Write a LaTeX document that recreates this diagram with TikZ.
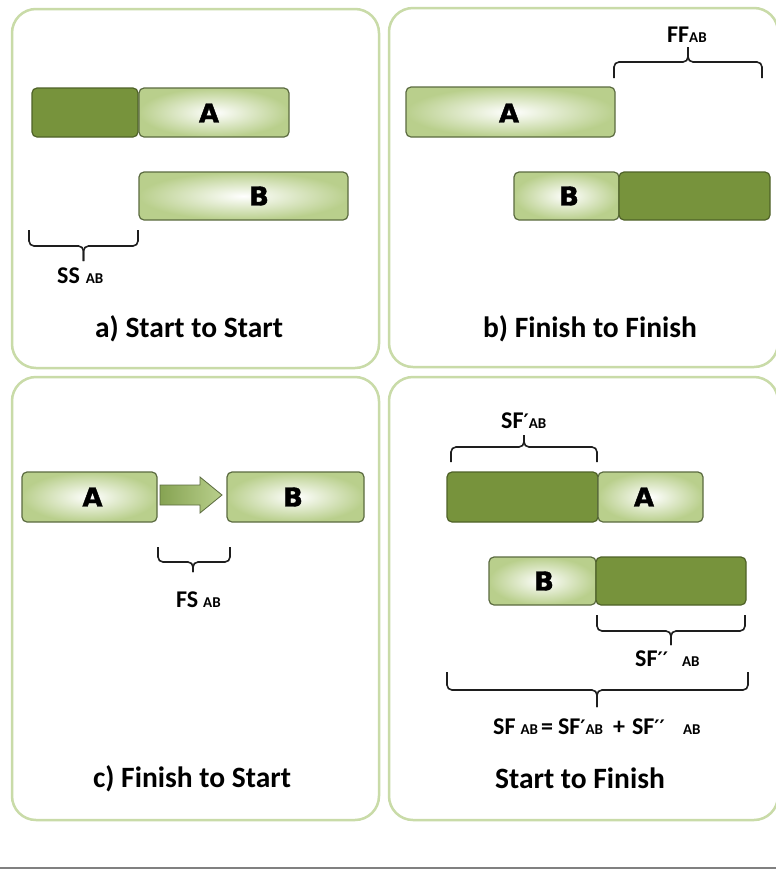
\documentclass[tikz,border=0pt]{standalone}
\usepackage{fontspec}
\setmainfont{Carlito}
\newfontfamily\barfont[BoldFeatures={FakeBold=1.6}]{DejaVu Sans}
\newfontfamily\primefont{DejaVu Sans}
\usetikzlibrary{calc}
\definecolor{panelc}{HTML}{C9DBA8}
\definecolor{darkg}{HTML}{77933C}
\definecolor{darkb}{HTML}{4F6228}
\definecolor{lightg}{HTML}{B9CF8C}
\definecolor{lightb}{HTML}{5B6B40}
\definecolor{arrl}{HTML}{86A352}
\definecolor{brk}{HTML}{1E1E1E}
\tikzset{
  panel/.style={draw=panelc, line width=2.5pt, rounded corners=24pt, fill=white},
  darkbar/.style={draw=darkb, line width=1.2pt, fill=darkg, rounded corners=5pt, inner sep=0pt, outer sep=0pt},
  lightbar/.style={draw=lightb, line width=1.2pt, inner color=white, outer color=lightg, rounded corners=5pt, inner sep=0pt, outer sep=0pt},
  barlabel/.style={font=\barfont\bfseries\fontsize{26}{26}\selectfont, inner sep=0pt},
  lbl/.style={font=\bfseries\fontsize{24}{24}\selectfont, inner sep=0pt, anchor=base west},
  ttl/.style={font=\bfseries\fontsize{29.5}{29.5}\selectfont, inner sep=0pt, anchor=base},
  brcline/.style={draw=brk, line width=1.6pt, rounded corners=5pt},
  blockarrow/.style={draw=lightb, line width=0.8pt, left color=arrl, middle color=white, right color=lightg},
}
\newcommand\sm[1]{{\fontsize{15}{15}\selectfont #1}}
\newcommand\pr{{\primefont\bfseries\fontsize{20}{20}\selectfont ′}}
% x1, x2, yend, yline, ytip, xmid
\newcommand\mybrace[6]{%
  \draw[brcline] (#1,#3) |- (#6,#4) -- (#6,#5);
  \draw[brcline] (#2,#3) |- (#6,#4) -- (#6,#5);
}
\begin{document}
\begin{tikzpicture}[x=1pt,y=-1pt]
\useasboundingbox (0,0) rectangle (776,871);
\fill[white] (0,0) rectangle (776,871);
\clip (0,0) rectangle (776,871);

% panels
\draw[panel] (12,9) rectangle (379,368);
\draw[panel] (389,8) rectangle (778,367);
\draw[panel] (12,377) rectangle (379,820);
\draw[panel] (389,377) rectangle (778,820);
\draw[gray, line width=1.5pt] (0,868) -- (776,868);

% ---- a) Start to Start
\node[darkbar, minimum width=106pt, minimum height=49pt] (aD) at (85,112.5) {};
\node[lightbar, minimum width=150pt, minimum height=49pt] (aA) at (214,112.5) {};
\node[barlabel] (aAt) at (209,113) {A};
\node[lightbar, minimum width=209pt, minimum height=48pt] (aB) at (243.5,196) {};
\node[barlabel] (aBt) at (259,196) {B};
\mybrace{29}{138}{230}{246}{261}{83.5}
\node[lbl] (ssl) at (57,283) {SS\hspace{6pt}\sm{AB}};
\node[ttl] (ta) at (189,337) {a) Start to Start};

% ---- b) Finish to Finish
\node[lightbar, minimum width=209pt, minimum height=50pt] (bA) at (510.5,112) {};
\node[barlabel] (bAt) at (509,113) {A};
\node[lightbar, minimum width=105pt, minimum height=48pt] (bB) at (566.5,196) {};
\node[barlabel] (bBt) at (569,196) {B};
\node[darkbar, minimum width=151pt, minimum height=48pt] (bD) at (694.5,196) {};
\mybrace{614}{762}{78}{62}{47}{688}
\node[lbl] (ffl) at (667,42) {FF\sm{AB}};
\node[ttl] (tb) at (590,337) {b) Finish to Finish};

% ---- c) Finish to Start
\node[lightbar, minimum width=135pt, minimum height=50pt] (cA) at (89.5,497) {};
\node[barlabel] (cAt) at (92.5,497) {A};
\node[lightbar, minimum width=137pt, minimum height=50pt] (cB) at (295.5,497) {};
\node[barlabel] (cBt) at (293,497) {B};
\draw[blockarrow] ($(cA.east)+(3,-12)$) -- ($(cA.east)+(43,-12)$) -- ($(cA.east)+(43,-20)$)
  -- ($(cB.west)+(-5,-2)$) -- ($(cA.east)+(43,16)$) -- ($(cA.east)+(43,8)$)
  -- ($(cA.east)+(3,8)$) -- cycle;
\mybrace{158}{230}{547}{562}{572}{193}
\node[lbl] (fsl) at (176,607) {FS\hspace{5pt}\sm{AB}};
\node[ttl] (tc) at (192,787) {c) Finish to Start};

% ---- Start to Finish
\node[darkbar, minimum width=151pt, minimum height=50pt] (dD1) at (522.5,497) {};
\node[lightbar, minimum width=105pt, minimum height=50pt] (dA) at (650.5,497) {};
\node[barlabel] (dAt) at (644,497) {A};
\node[lightbar, minimum width=107pt, minimum height=48pt] (dB) at (542.5,581) {};
\node[barlabel] (dBt) at (544,581) {B};
\node[darkbar, minimum width=150pt, minimum height=48pt] (dD2) at (671,581) {};
\mybrace{451}{597}{462}{447}{435}{524}
\node[lbl] (sf1) at (501,428) {SF\pr\sm{AB}};
\mybrace{597}{745}{615}{631}{645}{671}
\node[lbl] (sf2) at (635,666) {SF\pr\pr\hspace{14pt}\sm{AB}};
\mybrace{447}{748}{672}{690}{707}{597}
\node[lbl] (sfe) at (493,734) {SF\hspace{5pt}\sm{AB}\hspace{3pt}=\hspace{5pt}SF\pr\sm{AB}\hspace{10pt}+\hspace{7pt}SF\pr\pr\hspace{18pt}\sm{AB}};
\node[ttl] (td) at (580,788) {Start to Finish};
\end{tikzpicture}
\end{document}
